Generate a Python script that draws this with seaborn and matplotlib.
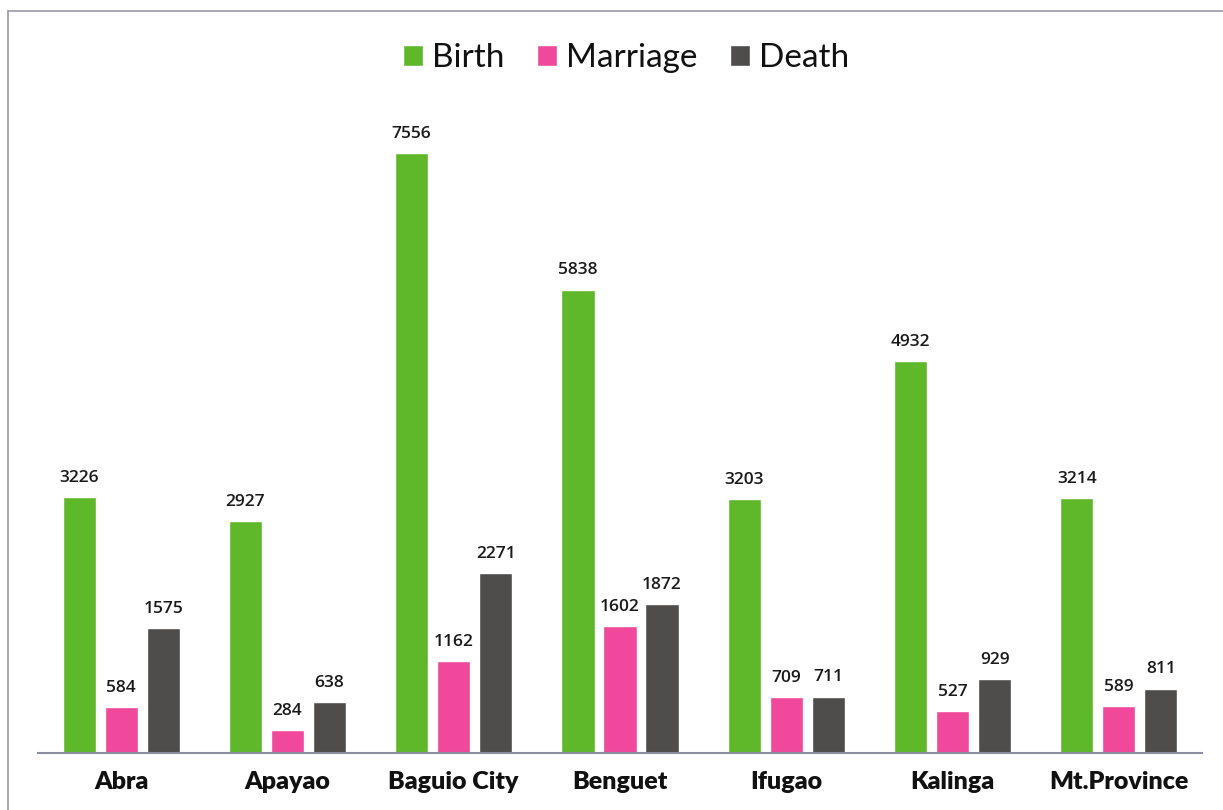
import pandas as pd
import seaborn as sns
import matplotlib.pyplot as plt
from matplotlib.lines import Line2D

# Data
provinces = ["Abra", "Apayao", "Baguio City", "Benguet", "Ifugao", "Kalinga", "Mt.Province"]
birth = [3226, 2927, 7556, 5838, 3203, 4932, 3214]
marriage = [584, 284, 1162, 1602, 709, 527, 589]
death = [1575, 638, 2271, 1872, 711, 929, 811]

series = ["Birth", "Marriage", "Death"]
colors = ["#5fb82a", "#f0489a", "#4f4d4b"]

df = pd.DataFrame({"province": provinces, "Birth": birth, "Marriage": marriage, "Death": death})
df_long = pd.melt(df, id_vars="province", value_vars=series, var_name="type", value_name="count")

sns.set_style("white")
plt.rcParams["font.family"] = ["Lato", "DejaVu Sans"]

fig = plt.figure(figsize=(12.23, 8.10), dpi=100)
ax = fig.add_axes([0.0311, 0.0704, 0.9517, 0.833])

sns.barplot(data=df_long, x="province", y="count", hue="type", hue_order=series,
            palette=colors, order=provinces, width=0.758, gap=0.21, ax=ax,
            saturation=1, errorbar=None)

for c in ax.containers:
    ax.bar_label(c, fmt="%d", padding=8, fontsize=12.5, color="#1a1a1a",
                 family=["Open Sans", "DejaVu Sans"], fontweight="semibold")

ax.set_xlim(-0.5, 6.5)
ax.set_ylim(0, 8500)
ax.set_xlabel("")
ax.set_ylabel("")
ax.set_yticks([])
ax.tick_params(axis="x", length=0, pad=13, labelsize=18)
for lbl in ax.get_xticklabels():
    lbl.set_fontweight("heavy")
    lbl.set_color("#111111")

for s in ["top", "left", "right"]:
    ax.spines[s].set_visible(False)
ax.spines["bottom"].set_color("#8c8ca0")
ax.spines["bottom"].set_linewidth(1.5)

# legend on top
ax.legend(loc="center", bbox_to_anchor=(0.512, 0.928), bbox_transform=fig.transFigure,
          ncol=3, frameon=False, fontsize=24, handlelength=0.6, handleheight=0.6,
          handletextpad=0.25, columnspacing=1.0, labelcolor="#111111")

# scanned page frame
fig.add_artist(Line2D([8 / 1223, 1.0], [1 - 11 / 810, 1 - 11 / 810], color="#9a9aa8", lw=1.2))
fig.add_artist(Line2D([8 / 1223, 8 / 1223], [0.0, 1 - 11 / 810], color="#9a9aa8", lw=1.2))

fig.savefig("out.png", dpi=100)
